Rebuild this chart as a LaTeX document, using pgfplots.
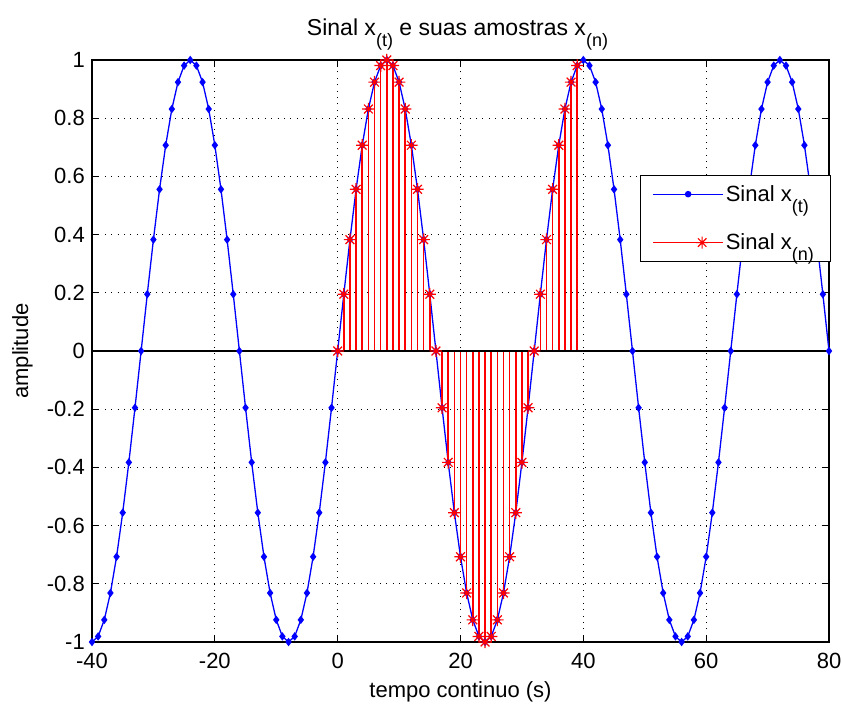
\documentclass[border=0pt]{standalone}
\usepackage{pgfplots}
\pgfplotsset{compat=1.18}
\usepackage{fontspec}
\setmainfont{Liberation Sans}
\newcommand\fs{\fontsize{22}{26}\selectfont}
\newcommand\sub[1]{\raisebox{-11pt}{\fontsize{18}{20}\selectfont #1}}
\definecolor{mred}{RGB}{255,0,0}
\definecolor{mblue}{RGB}{0,0,255}
\pgfdeclareplotmark{mstar}{%
 \pgfpathmoveto{\pgfqpoint{-\pgfplotmarksize}{0pt}}\pgfpathlineto{\pgfqpoint{\pgfplotmarksize}{0pt}}%
 \pgfpathmoveto{\pgfqpoint{0pt}{-\pgfplotmarksize}}\pgfpathlineto{\pgfqpoint{0pt}{\pgfplotmarksize}}%
 \pgfpathmoveto{\pgfqpoint{-.707\pgfplotmarksize}{-.707\pgfplotmarksize}}\pgfpathlineto{\pgfqpoint{.707\pgfplotmarksize}{.707\pgfplotmarksize}}%
 \pgfpathmoveto{\pgfqpoint{-.707\pgfplotmarksize}{.707\pgfplotmarksize}}\pgfpathlineto{\pgfqpoint{.707\pgfplotmarksize}{-.707\pgfplotmarksize}}%
 \pgfusepathqstroke}
\pgfplotstableread{
t y
-40 -1
-39 -0.9808
-38 -0.9239
-37 -0.8315
-36 -0.7071
-35 -0.5556
-34 -0.3827
-33 -0.1951
-32 0
-31 0.1951
-30 0.3827
-29 0.5556
-28 0.7071
-27 0.8315
-26 0.9239
-25 0.9808
-24 1
-23 0.9808
-22 0.9239
-21 0.8315
-20 0.7071
-19 0.5556
-18 0.3827
-17 0.1951
-16 0
-15 -0.1951
-14 -0.3827
-13 -0.5556
-12 -0.7071
-11 -0.8315
-10 -0.9239
-9 -0.9808
-8 -1
-7 -0.9808
-6 -0.9239
-5 -0.8315
-4 -0.7071
-3 -0.5556
-2 -0.3827
-1 -0.1951
0 0
1 0.1951
2 0.3827
3 0.5556
4 0.7071
5 0.8315
6 0.9239
7 0.9808
8 1
9 0.9808
10 0.9239
11 0.8315
12 0.7071
13 0.5556
14 0.3827
15 0.1951
16 0
17 -0.1951
18 -0.3827
19 -0.5556
20 -0.7071
21 -0.8315
22 -0.9239
23 -0.9808
24 -1
25 -0.9808
26 -0.9239
27 -0.8315
28 -0.7071
29 -0.5556
30 -0.3827
31 -0.1951
32 0
33 0.1951
34 0.3827
35 0.5556
36 0.7071
37 0.8315
38 0.9239
39 0.9808
40 1
41 0.9808
42 0.9239
43 0.8315
44 0.7071
45 0.5556
46 0.3827
47 0.1951
48 0
49 -0.1951
50 -0.3827
51 -0.5556
52 -0.7071
53 -0.8315
54 -0.9239
55 -0.9808
56 -1
57 -0.9808
58 -0.9239
59 -0.8315
60 -0.7071
61 -0.5556
62 -0.3827
63 -0.1951
64 0
65 0.1951
66 0.3827
67 0.5556
68 0.7071
69 0.8315
70 0.9239
71 0.9808
72 1
73 0.9808
74 0.9239
75 0.8315
76 0.7071
77 0.5556
78 0.3827
79 0.1951
80 0
}\contsig
\pgfplotstableread{
n y
0 0
1 0.1951
2 0.3827
3 0.5556
4 0.7071
5 0.8315
6 0.9239
7 0.9808
8 1
9 0.9808
10 0.9239
11 0.8315
12 0.7071
13 0.5556
14 0.3827
15 0.1951
16 0
17 -0.1951
18 -0.3827
19 -0.5556
20 -0.7071
21 -0.8315
22 -0.9239
23 -0.9808
24 -1
25 -0.9808
26 -0.9239
27 -0.8315
28 -0.7071
29 -0.5556
30 -0.3827
31 -0.1951
32 0
33 0.1951
34 0.3827
35 0.5556
36 0.7071
37 0.8315
38 0.9239
39 0.9808
}\samples
\begin{document}
\begin{tikzpicture}
\useasboundingbox (-92pt,-62pt) rectangle (750pt,642pt);
\begin{axis}[
  scale only axis, width=737pt, height=582pt,
  xmin=-40, xmax=80, ymin=-1, ymax=1,
  clip=false,
  xtick={-40,-20,0,20,40,60,80},
  xticklabels={-40,-20,0,20,40,60,80},
  ytick={-1,-0.8,-0.6,-0.4,-0.2,0,0.2,0.4,0.6,0.8,1},
  yticklabels={-1,-0.8,-0.6,-0.4,-0.2,0,0.2,0.4,0.6,0.8,1},
  tick align=inside, major tick length=7pt,
  tick style={black, line width=0.8pt},
  axis line style={black, line width=1.1pt},
  grid=major,
  major grid style={black, line width=0.7pt, dash pattern=on 0.9pt off 5.5pt},
  xticklabel style={font=\fs, anchor=base, yshift=-26pt},
  yticklabel style={font=\fs, anchor=east, inner sep=0pt, xshift=-7pt},
  title={Sinal x\sub{(t)} e suas amostras x\sub{(n)}},
  title style={font=\fontsize{23}{26}\selectfont, at={(axis description cs:0.5,1)}, anchor=base, yshift=18pt, xshift=-3pt},
  xlabel={tempo continuo (s)},
  xlabel style={font=\fs, at={(axis description cs:0.5,0)}, anchor=base, yshift=-55pt},
  ylabel={amplitude},
  ylabel style={font=\fs, at={(axis description cs:-0.0868,0.5)}, anchor=base},
  legend style={font=\fs, at={(axis description cs:0.7436,0.8024)}, anchor=north west,
    draw=black, line width=0.9pt, fill=white, inner xsep=12pt, inner ysep=8pt,
    row sep=27pt, nodes={inner sep=2pt},
    /tikz/every even column/.append style={column sep=7pt}},
  legend cell align=left,
]
\addplot[draw=mblue, line width=1.3pt, mark=diamond*, mark size=3.2pt,
  mark options={draw=mblue, fill=mblue},
  legend image code/.code={%
    \draw[draw=mblue,line width=1.3pt] (0pt,0pt) -- (70pt,0pt);
    \begin{scope}[shift={(35pt,0pt)},draw=mblue,fill=mblue]\pgfsetplotmarksize{2.6pt}\pgfuseplotmark{*}\end{scope}}]
  table[x=t,y=y] {\contsig};
\addlegendentry{Sinal x\sub{(t)}}
\addplot[draw=mred, line width=1.5pt, ycomb, mark=mstar, mark size=6.2pt,
  mark options={draw=mred, line width=1.2pt},
  legend image code/.code={%
    \draw[draw=mred,line width=1.3pt] (0pt,0pt) -- (70pt,0pt);
    \begin{scope}[shift={(49pt,0pt)},draw=mred,line width=1.1pt]\pgfsetplotmarksize{6pt}\pgfuseplotmark{mstar}\end{scope}}]
  table[x=n,y=y] {\samples};
\addlegendentry{Sinal x\sub{(n)}\hspace*{3pt}\rule[-35pt]{0pt}{1pt}}
\addplot[black, line width=1.1pt, forget plot] coordinates {(-40,0) (80,0)};
\end{axis}
\end{tikzpicture}
\end{document}
